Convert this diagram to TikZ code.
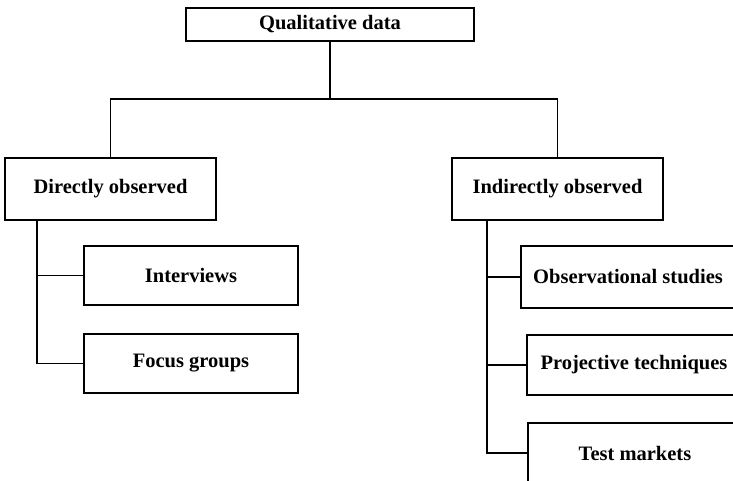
\documentclass[tikz,border=0pt]{standalone}
\usepackage{fontspec}
\setmainfont{Liberation Serif}
\begin{document}
\begin{tikzpicture}[x=1pt,y=-1pt,
  box/.style={draw, line width=1.6pt, rectangle, inner sep=0pt,
    font=\fontsize{20.5}{24}\selectfont\bfseries},
  link/.style={line width=1.6pt}]
\useasboundingbox (0,0) rectangle (733,480);
\clip (0,0) rectangle (733,480);

% root
\node[box, minimum width=288pt, minimum height=33pt] (root) at (330,24.5) {Qualitative data};

% second level
\node[box, minimum width=211pt, minimum height=62pt] (dir) at (110.5,189) {Directly observed};
\node[box, minimum width=211pt, minimum height=62pt] (ind) at (557.5,189) {Indirectly observed};

% direct methods
\node[box, minimum width=214pt, minimum height=59pt] (intv) at (191,275.5) {Interviews};
\node[box, minimum width=214pt, minimum height=59pt] (focus) at (191,363.5) {Focus groups};

% indirect methods
\node[box, minimum width=214pt, minimum height=62pt] (obs) at (628,277) {Observational studies};
\node[box, minimum width=214pt, minimum height=60pt] (proj) at (634,365) {Projective techniques};
\node[box, minimum width=214pt, minimum height=60pt] (test) at (635,453) {Test markets};

% trunk from the root
\coordinate (hub) at (330,99);
\draw[link] (root.south) -- (hub);
\draw[link] (dir.north) |- (hub) -| (ind.north);

% left spine
\coordinate (ls) at (37,220);
\draw[link] (ls) |- (focus.west);
\draw[link] (ls |- intv.west) -- (intv.west);

% right spine
\coordinate (rs) at (487,220);
\draw[link] (rs) |- (test.west);
\draw[link] (rs |- obs.west) -- (obs.west);
\draw[link] (rs |- proj.west) -- (proj.west);
\end{tikzpicture}
\end{document}
